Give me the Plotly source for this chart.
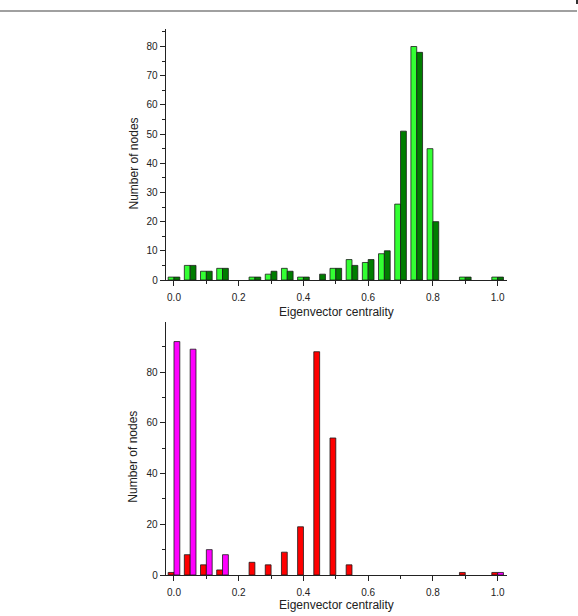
import plotly.graph_objects as go
from plotly.subplots import make_subplots

bins = [0.00, 0.05, 0.10, 0.15, 0.20, 0.25, 0.30, 0.35, 0.40, 0.45, 0.50,
        0.55, 0.60, 0.65, 0.70, 0.75, 0.80, 0.85, 0.90, 0.95, 1.00]

top_light = [1, 5, 3, 4, 0, 1, 2, 4, 1, 0, 4, 7, 6, 9, 26, 80, 45, 0, 1, 0, 1]
top_dark = [1, 5, 3, 4, 0, 1, 3, 3, 1, 2, 4, 5, 7, 10, 51, 78, 20, 0, 1, 0, 1]

bot_red = [1, 8, 4, 2, 0, 5, 4, 9, 19, 88, 54, 4, 0, 0, 0, 0, 0, 0, 1, 0, 1]
bot_magenta = [92, 89, 10, 8, 0, 0, 0, 0, 0, 0, 0, 0, 0, 0, 0, 0, 0, 0, 0, 0, 1]

x_title = "Eigenvector centrality"
y_title = "Number of nodes"

W, H = 578, 616
FONT = "Liberation Sans, Arial, sans-serif"

def px(x):
    return x / W

def py(y):
    return (H - y) / H

def outline(vals):
    # no outline for empty bins, so nothing is drawn on the axis
    return dict(color="#1a1a1a", width=[0.8 if v else 0 for v in vals])

fig = make_subplots(rows=2, cols=1)

fig.add_trace(go.Bar(x=bins, y=top_light, marker=dict(color="#33ff33", line=outline(top_light)),
                     showlegend=False), row=1, col=1)
fig.add_trace(go.Bar(x=bins, y=top_dark, marker=dict(color="#007d00", line=outline(top_dark)),
                     showlegend=False), row=1, col=1)
fig.add_trace(go.Bar(x=bins, y=bot_red, marker=dict(color="#ff0000", line=outline(bot_red)),
                     showlegend=False), row=2, col=1)
fig.add_trace(go.Bar(x=bins, y=bot_magenta, marker=dict(color="#ff00ff", line=outline(bot_magenta)),
                     showlegend=False), row=2, col=1)

x_dom = [px(165.7), px(506.7)]
axis_common = dict(showline=True, linecolor="#222", linewidth=1, ticks="outside",
                   ticklen=5, tickcolor="#222", showgrid=False, zeroline=False,
                   automargin=False,
                   tickfont=dict(family=FONT, size=10, color="#222"))

for r, ydom, yrange, ydt in [(1, [py(280), py(29)], [0, 86], 10),
                             (2, [py(575), py(322.3)], [0, 99.6], 20)]:
    fig.update_xaxes(domain=x_dom, range=[-0.0256, 1.028], dtick=0.2, tick0=0,
                     tickformat=".1f", ticklabelstandoff=3,
                     minor=dict(dtick=0.1, ticks="outside", ticklen=3, tickcolor="#222"),
                     **axis_common, row=r, col=1)
    fig.update_yaxes(domain=ydom, range=yrange, dtick=ydt, tick0=0,
                     minor=dict(dtick=ydt / 2, ticks="outside", ticklen=3, tickcolor="#222"),
                     **axis_common, row=r, col=1)

ann_font = dict(family=FONT, size=12, color="#222")
for yc in [312, 605]:
    fig.add_annotation(text=x_title, x=px(336.5), y=py(yc), xref="paper", yref="paper",
                       showarrow=False, font=ann_font, xanchor="center", yanchor="middle")
for yc in [163.5, 456.7]:
    fig.add_annotation(text=y_title, x=px(133), y=py(yc), xref="paper", yref="paper",
                       showarrow=False, font=ann_font, textangle=-90,
                       xanchor="center", yanchor="middle")

# page frame line at the top
fig.add_shape(type="line", xref="paper", yref="paper", x0=0, x1=px(577),
              y0=py(11), y1=py(11), line=dict(color="#a0a0a0", width=2))
fig.add_shape(type="rect", xref="paper", yref="paper", x0=px(576), x1=px(578),
              y0=py(4), y1=py(0), line=dict(width=0), fillcolor="#333")

fig.update_layout(width=W, height=H, margin=dict(l=0, r=0, t=0, b=0, autoexpand=False),
                  barmode="group", bargap=0.28, bargroupgap=0,
                  plot_bgcolor="white", paper_bgcolor="white")

fig.write_html("out.html")
